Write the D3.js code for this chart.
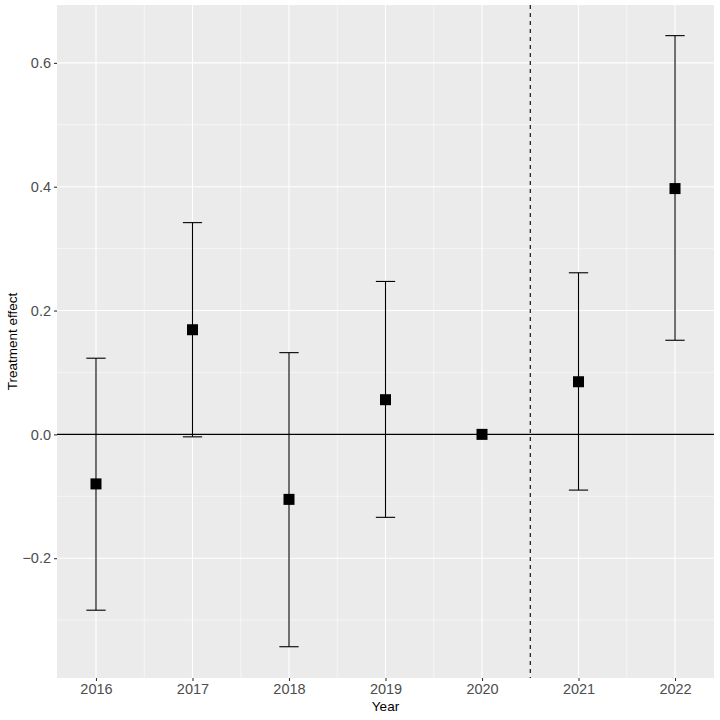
<!DOCTYPE html>
<html><head><meta charset="utf-8">
<script src="https://cdn.jsdelivr.net/npm/d3@7"></script>
<style>body{margin:0;background:#fff;} text{font-family:"Liberation Sans",Arial,sans-serif;}</style>
</head><body>
<svg id="c" width="720" height="720"></svg>
<script>
const years = [2016, 2017, 2018, 2019, 2020, 2021, 2022];
const estimate = [-0.080, 0.169, -0.105, 0.056, 0.000, 0.085, 0.397];
const lower = [-0.284, -0.004, -0.343, -0.134, 0.000, -0.090, 0.152];
const upper = [0.123, 0.342, 0.132, 0.247, 0.000, 0.261, 0.644];
const yTicks = [-0.2, 0.0, 0.2, 0.4, 0.6];
const yMinor = [-0.3, -0.1, 0.1, 0.3, 0.5];
const xMinor = [2016.5, 2017.5, 2018.5, 2019.5, 2020.5, 2021.5];
const cutoff = 2020.5;

const svg = d3.select("#c");
const L = 57, R = 714, T = 5, B = 678;
const x = d3.scaleLinear().domain([2015.596, 2022.404]).range([L, R]);
const y = d3.scaleLinear().domain([-0.3935, 0.6935]).range([B, T]);

svg.append("rect").attr("x", L).attr("y", T).attr("width", R - L).attr("height", B - T).attr("fill", "#ebebeb");
const g = svg.append("g");
g.selectAll(".ym").data(yMinor).join("line").attr("x1", L).attr("x2", R)
  .attr("y1", d => y(d)).attr("y2", d => y(d)).attr("stroke", "#fff").attr("stroke-width", 0.55);
g.selectAll(".xm").data(xMinor).join("line").attr("y1", T).attr("y2", B)
  .attr("x1", d => x(d)).attr("x2", d => x(d)).attr("stroke", "#fff").attr("stroke-width", 0.55);
g.selectAll(".yM").data(yTicks).join("line").attr("x1", L).attr("x2", R)
  .attr("y1", d => y(d)).attr("y2", d => y(d)).attr("stroke", "#fff").attr("stroke-width", 1.1);
g.selectAll(".xM").data(years).join("line").attr("y1", T).attr("y2", B)
  .attr("x1", d => x(d)).attr("x2", d => x(d)).attr("stroke", "#fff").attr("stroke-width", 1.1);

// zero line
svg.append("line").attr("x1", L).attr("x2", R).attr("y1", y(0)).attr("y2", y(0)).attr("stroke", "#000").attr("stroke-width", 1.1);
// cutoff
svg.append("line").attr("x1", x(cutoff)).attr("x2", x(cutoff)).attr("y1", T).attr("y2", B)
  .attr("stroke", "#000").attr("stroke-width", 1.1).attr("stroke-dasharray", "4,4");

const data = years.map((yr, i) => ({yr, est: estimate[i], lo: lower[i], hi: upper[i]}));
const eb = svg.append("g").selectAll("g").data(data.filter(d => d.hi !== d.lo)).join("g");
const hw = 0.1;
eb.append("line").attr("x1", d => x(d.yr)).attr("x2", d => x(d.yr)).attr("y1", d => y(d.lo)).attr("y2", d => y(d.hi)).attr("stroke", "#000").attr("stroke-width", 1.1);
eb.append("line").attr("x1", d => x(d.yr - hw)).attr("x2", d => x(d.yr + hw)).attr("y1", d => y(d.lo)).attr("y2", d => y(d.lo)).attr("stroke", "#000").attr("stroke-width", 1.1);
eb.append("line").attr("x1", d => x(d.yr - hw)).attr("x2", d => x(d.yr + hw)).attr("y1", d => y(d.hi)).attr("y2", d => y(d.hi)).attr("stroke", "#000").attr("stroke-width", 1.1);

const s = 11;
svg.append("g").selectAll("rect").data(data).join("rect")
  .attr("x", d => x(d.yr) - s / 2).attr("y", d => y(d.est) - s / 2).attr("width", s).attr("height", s).attr("fill", "#000");

// axes
const fmt = d => (d < 0 ? "\u2212" : "") + Math.abs(d).toFixed(1);
const ya = svg.append("g").attr("transform", `translate(${L},0)`)
  .call(d3.axisLeft(y).tickValues(yTicks).tickFormat(fmt).tickSize(3).tickPadding(3));
const xa = svg.append("g").attr("transform", `translate(0,${B})`)
  .call(d3.axisBottom(x).tickValues(years).tickFormat(d3.format("d")).tickSize(3).tickPadding(3));
[ya, xa].forEach(a => {
  a.select(".domain").remove();
  a.selectAll(".tick line").attr("stroke", "#333").attr("stroke-width", 1.1);
  a.selectAll(".tick text").attr("fill", "#4d4d4d").style("font-size", "14.5px");
});

svg.append("text").attr("x", (L + R) / 2).attr("y", 711).attr("text-anchor", "middle").style("font-size", "13.5px").attr("fill", "#000").text("Year");
svg.append("text").attr("transform", `translate(17,${(T + B) / 2}) rotate(-90)`).attr("text-anchor", "middle").style("font-size", "13.5px").attr("fill", "#000").text("Treatment effect");
</script>
</body></html>
